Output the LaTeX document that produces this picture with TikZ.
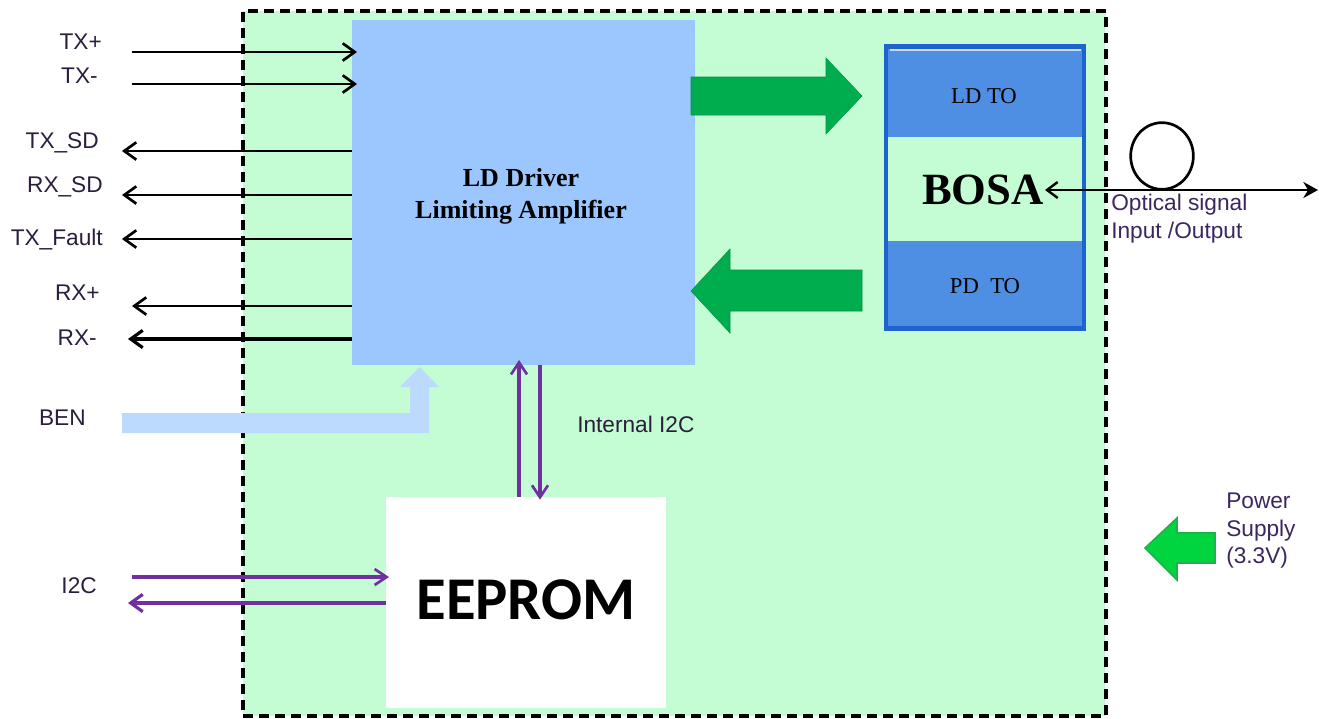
\documentclass[tikz,border=0pt]{standalone}
\usepackage{fontspec}
\setmainfont{Liberation Serif}
\newfontfamily\arialf{Liberation Sans}
\newfontfamily\calibf{Carlito}
\usetikzlibrary{arrows.meta}
\definecolor{bggreen}{HTML}{C4FDD3}
\definecolor{ldblue}{HTML}{9CC6FE}
\definecolor{bosablue}{HTML}{4F8FE3}
\definecolor{bosaedge}{HTML}{1E64CF}
\definecolor{arrgreen}{HTML}{00AD4E}
\definecolor{pwrgreen}{HTML}{00D43E}
\definecolor{pwredge}{HTML}{1DB34A}
\definecolor{benblue}{HTML}{BCDAFD}
\definecolor{i2cpurple}{HTML}{7030A0}
\definecolor{lbltext}{HTML}{2A1E3C}
\definecolor{lbltwo}{HTML}{3C2660}
\tikzset{
  lbl/.style={font=\arialf\fontsize{17}{21}\selectfont, text=lbltext, inner sep=0pt},
  sig/.style={line width=2.2pt, draw=black, -{Straight Barb[length=9pt,width=13pt,line width=2pt]}},
  sigthick/.style={line width=3.2pt, draw=black, -{Straight Barb[length=9pt,width=13pt,line width=2.4pt]}},
  i2c/.style={line width=2.4pt, draw=i2cpurple, -{Straight Barb[length=9pt,width=12pt,line width=2pt]}},
  i2cthick/.style={line width=3.2pt, draw=i2cpurple, -{Straight Barb[length=9pt,width=13pt,line width=2.4pt]}},
  block/.style={inner sep=0pt, outer sep=0pt, draw=none},
  fatarrow/.style={fill=arrgreen, draw=arrgreen!85!black, line width=0.4pt},
}
\begin{document}
\begin{tikzpicture}[x=0.75pt,y=-0.75pt]
\useasboundingbox (0,0) rectangle (1319,718);
% module frame
\node[block, fill=bggreen, draw=black, line width=2.3pt, dash pattern=on 7.5pt off 4.5pt,
  minimum width=647.25pt, minimum height=528.75pt] (frame) at (674.5,363.5) {};
% LD driver block
\node[block, fill=ldblue, minimum width=257.25pt, minimum height=258.75pt] (ld) at (523.5,192.5) {};
\node[inner sep=0pt, align=center, font=\bfseries\fontsize{19.5}{24}\selectfont] (ldtxt) at (521,196)
  {LD Driver\\Limiting Amplifier};
% EEPROM block
\node[block, fill=white, minimum width=210pt, minimum height=158.25pt,
  font=\calibf\bfseries\fontsize{45.5}{50}\selectfont] (eeprom) at (526,602.5) {\raisebox{4.5pt}{EEPROM}};
% BOSA block
\node[block, fill=bosablue, draw=bosaedge, line width=3.6pt, minimum width=148.5pt, minimum height=211.5pt] (bosa) at (985,187.5) {};
\fill[bggreen] (888,137) rectangle (1082,241);
\draw[white!70!bosablue, line width=0.8pt] (890,50) -- (1081,50);
\node[inner sep=0pt, font=\fontsize{17}{20}\selectfont] (ldto) at (984,96) {LD TO};
\node[inner sep=0pt, font=\bfseries\fontsize{33.5}{36}\selectfont] (bosatxt) at (983,190) {BOSA};
\node[inner sep=0pt, font=\fontsize{17}{20}\selectfont] (pdto) at (985,286) {PD\ \ TO};
% green data arrows
\fill[fatarrow] (691,77) -- (826,77) -- (826,58) -- (862,96) -- (826,134) -- (826,115) -- (691,115) -- cycle;
\fill[fatarrow] (862,270) -- (730,270) -- (730,249) -- (691,291) -- (730,333) -- (730,311) -- (862,311) -- cycle;
% left side signals
\coordinate (txp) at (132,52);
\coordinate (txm) at (132,84);
\coordinate (txsd) at (122,151);
\coordinate (rxsd) at (122,195);
\coordinate (txf) at (122,239);
\coordinate (rxp) at (132,306);
\coordinate (rxm) at (128,339);
\draw[sig, shorten >=-3.75pt] (txp) -- (txp -| ld.west);
\draw[sig, shorten >=-3.75pt] (txm) -- (txm -| ld.west);
\draw[sig] (txsd -| ld.west) -- (txsd);
\draw[sig] (rxsd -| ld.west) -- (rxsd);
\draw[sig] (txf -| ld.west) -- (txf);
\draw[sig] (rxp -| ld.west) -- (rxp);
\draw[sigthick] (rxm -| ld.west) -- (rxm);
\node[lbl, anchor=base east] (ltxp) at (102,49) {TX+};
\node[lbl, anchor=base east] (ltxm) at (98,83) {TX-};
\node[lbl, anchor=base east] (ltxsd) at (99,148) {TX\_SD};
\node[lbl, anchor=base east] (lrxsd) at (103,192) {RX\_SD};
\node[lbl, anchor=base east] (ltxf) at (103,245) {TX\_Fault};
\node[lbl, anchor=base east] (lrxp) at (100,300) {RX+};
\node[lbl, anchor=base east] (lrxm) at (97,345) {RX-};
% BEN
\fill[benblue] (122,413) -- (410,413) -- (410,387) -- (400,387) -- (419.5,367) -- (439,387) -- (429,387) -- (429,433) -- (122,433) -- cycle;
\node[lbl, anchor=base east] (lben) at (86,425) {BEN};
% internal I2C
\draw[i2c, shorten >=-3.75pt] ([xshift=-5.25pt]eeprom.north) -- ([xshift=-5.25pt]eeprom.north |- ld.south);
\draw[i2c] ([xshift=10.5pt]eeprom.north |- ld.south) -- ([xshift=10.5pt,yshift=-2pt]eeprom.north);
\node[lbl, anchor=base west] (lint) at (577,432) {Internal I2C};
% external I2C
\coordinate (i2cin) at (132,577);
\coordinate (i2cout) at (128,603);
\draw[i2c, shorten >=-2.25pt] (i2cin) -- (i2cin -| eeprom.west);
\draw[i2cthick] (i2cout -| eeprom.west) -- (i2cout);
\node[lbl, anchor=base east] (li2c) at (97,593) {I2C};
% optical fibre
\coordinate (optin) at (1045,190);
\coordinate (optout) at (1318,190);
\draw[line width=2pt, {Straight Barb[length=8pt,width=12pt,line width=1.8pt]}-{Stealth[length=11pt,width=12pt]}] (optin) -- (optout);
\draw[line width=2pt] (1162,156) ellipse [x radius=23.5pt, y radius=25pt];
\node[lbl, text=lbltwo, anchor=north west, align=left, font=\arialf\fontsize{17}{21}\selectfont] (lopt) at (1111,194) {Optical signal\\Input /Output};
% power supply
\filldraw[fill=pwrgreen, draw=pwredge, line width=1.2pt] (1215,533) -- (1177,533) -- (1177,518) -- (1145,548) -- (1177,580) -- (1177,563) -- (1215,563) -- cycle;
\node[lbl, text=lbltwo, anchor=north west, align=left, font=\arialf\fontsize{17}{20.6}\selectfont] (lpwr) at (1226,493) {Power\\Supply\\(3.3V)};
\end{tikzpicture}
\end{document}
